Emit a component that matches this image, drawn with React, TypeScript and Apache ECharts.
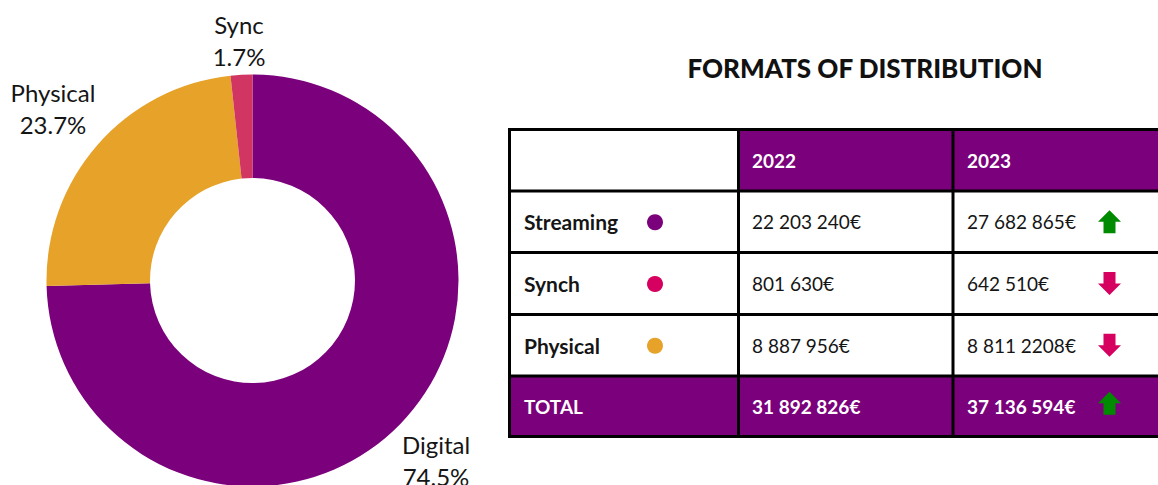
import React, { useEffect, useRef } from "react";
import * as echarts from "echarts";

// Pie data
const pieNames = ["Digital", "Physical", "Sync"];
const pieValues = [74.5, 23.7, 1.7];
const pieColors = ["#7b007b", "#e6a229", "#d13562"];

// Table data
const tableTitle = "FORMATS OF DISTRIBUTION";
const years = ["2022", "2023"];
const rowLabels = ["Streaming", "Synch", "Physical"];
const dotColors = ["#7b007b", "#d5005f", "#e6a229"];
const values2022 = ["22 203 240€", "801 630€", "8 887 956€"];
const values2023 = ["27 682 865€", "642 510€", "8 811 2208€"];
const trends2023 = ["up", "down", "down"];
const totalLabel = "TOTAL";
const totals = ["31 892 826€", "37 136 594€"];
const totalTrend = "up";

const PURPLE = "#7b007b";
const FONT = "Lato, 'Noto Sans', sans-serif";
const TXT = "#151515";

export default function App() {
  const ref = useRef<HTMLDivElement>(null);
  useEffect(() => {
    if (!ref.current) return;
    const chart = echarts.init(ref.current, undefined, { renderer: "svg" });

    const labelPos: Record<number, [number, number]> = {
      0: [436, 460],
      1: [53, 108],
      2: [239, 40],
    };

    // table geometry
    const left = 509.5;
    const right = 1162;
    const colX = [509.5, 738.5, 953];
    const rowY = [129.5, 191, 252.5, 314.5, 376, 436.5];
    const textX = [524, 752, 967];
    const arrowX = 1109.5;
    const dotX = 655;

    const g: any[] = [];
    g.push({
      type: "rect",
      shape: { x: colX[1], y: rowY[0], width: right - colX[1], height: rowY[1] - rowY[0] },
      style: { fill: PURPLE },
    });
    g.push({
      type: "rect",
      shape: { x: left, y: rowY[4], width: right - left, height: rowY[5] - rowY[4] },
      style: { fill: PURPLE },
    });
    rowY.forEach((y) => {
      g.push({
        type: "line",
        shape: { x1: left - 1.5, y1: y, x2: right, y2: y },
        style: { stroke: "#000", lineWidth: 3 },
      });
    });
    colX.forEach((x) => {
      g.push({
        type: "line",
        shape: { x1: x, y1: rowY[0] - 1.5, x2: x, y2: rowY[5] + 1.5 },
        style: { stroke: "#000", lineWidth: 3 },
      });
    });
    const rowMid = (i: number) => (rowY[i] + rowY[i + 1]) / 2;

    const arrow = (cx: number, cy: number, dir: string, color: string) => {
      const up = [
        [0, -11.5],
        [11.5, 0],
        [6, 0],
        [6, 11.5],
        [-6, 11.5],
        [-6, 0],
        [-11.5, 0],
      ];
      const pts = up.map(([x, y]) => [cx + x, cy + (dir === "up" ? y : -y)]);
      return { type: "polygon", shape: { points: pts }, style: { fill: color } };
    };

    years.forEach((yr, j) => {
      g.push({
        type: "text",
        x: textX[j + 1],
        y: rowMid(0),
        style: { text: yr, fill: "#fff", font: `bold 19px ${FONT}`, verticalAlign: "middle", align: "left" },
      });
    });
    rowLabels.forEach((lab, i) => {
      const cy = rowMid(i + 1);
      g.push({
        type: "text",
        x: textX[0],
        y: cy,
        style: { text: lab, fill: TXT, font: `bold 21px ${FONT}`, verticalAlign: "middle", align: "left" },
      });
      g.push({ type: "circle", shape: { cx: dotX, cy: cy + 0.5, r: 8 }, style: { fill: dotColors[i] } });
      g.push({
        type: "text",
        x: textX[1],
        y: cy,
        style: { text: values2022[i], fill: TXT, font: `19px ${FONT}`, verticalAlign: "middle", align: "left" },
      });
      g.push({
        type: "text",
        x: textX[2],
        y: cy,
        style: { text: values2023[i], fill: TXT, font: `19px ${FONT}`, verticalAlign: "middle", align: "left" },
      });
      g.push(arrow(arrowX, cy, trends2023[i], trends2023[i] === "up" ? "#008a00" : "#d5005f"));
    });
    const ty = rowMid(4);
    g.push({
      type: "text",
      x: textX[0],
      y: ty,
      style: { text: totalLabel, fill: "#fff", font: `bold 19px ${FONT}`, verticalAlign: "middle", align: "left" },
    });
    totals.forEach((t, j) => {
      g.push({
        type: "text",
        x: textX[j + 1],
        y: ty,
        style: { text: t, fill: "#fff", font: `bold 19px ${FONT}`, verticalAlign: "middle", align: "left" },
      });
    });
    g.push(arrow(arrowX, ty - 3, totalTrend, totalTrend === "up" ? "#008a00" : "#d5005f"));
    g.push({
      type: "text",
      x: 865,
      y: 68,
      style: { text: tableTitle, fill: "#111", font: `900 26px ${FONT}`, verticalAlign: "middle", align: "center" },
    });

    chart.setOption({
      animation: false,
      series: [
        {
          type: "pie",
          center: [252.5, 280.5],
          radius: [102.5, 206],
          startAngle: 90,
          clockwise: true,
          data: pieNames.map((n, i) => ({ name: n, value: pieValues[i], itemStyle: { color: pieColors[i] } })),
          label: {
            show: true,
            position: "outside",
            overflow: "none",
            formatter: "{b}\n{c}%",
            fontFamily: FONT,
            fontSize: 24,
            lineHeight: 32,
            color: TXT,
          },
          labelLine: { show: false },
          labelLayout: (p: any) => {
            const pos = labelPos[p.dataIndex];
            return { x: pos[0], y: pos[1], width: 120, align: "center", verticalAlign: "middle" };
          },
          emphasis: { disabled: true },
        },
      ],
      graphic: g,
    });
    return () => chart.dispose();
  }, []);
  return <div ref={ref} style={{ position: "absolute", left: 0, top: 0, width: 1158, height: 485 }} />;
}
